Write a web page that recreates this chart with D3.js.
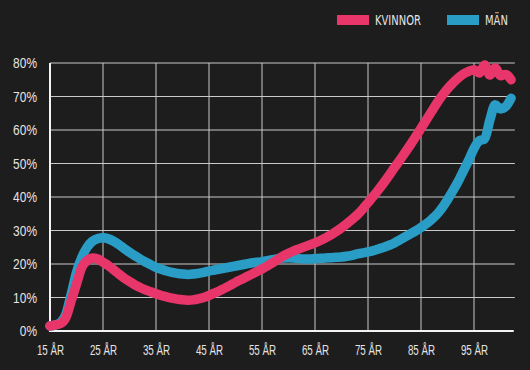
<!DOCTYPE html>
<html>
<head>
    <meta charset='utf-8' />
    <script src="https://d3js.org/d3.v7.min.js" charset="utf-8"></script>
    <style>
        body {
            margin: 0;
            background: #1d1d1d;
            font-family: "DejaVu Sans Condensed", "Liberation Sans Narrow", "Roboto", sans-serif;
        }
        .tick text {
            fill: #e4e4e4;
            font-size: 15.5px;
        }
    </style>
</head>
<body>
    <div id="graphic"></div>
    <script>
        // ages 15..102
        var ages = d3.range(15, 103);

        var kvinnor = [1.5, 1.8, 2.2, 4, 9, 14, 19, 21, 21.8, 21.5,
            20.5, 19.5, 18.3, 17, 15.8, 14.8, 13.8, 13, 12.3, 11.7,
            11.1, 10.6, 10.2, 9.8, 9.5, 9.3, 9.2, 9.3, 9.6, 10,
            10.6, 11.3, 12, 12.8, 13.6, 14.5, 15.3, 16.1, 16.9, 17.7,
            18.5, 19.4, 20.4, 21.4, 22.4, 23.2, 23.9, 24.5, 25.1, 25.7,
            26.3, 27, 27.8, 28.7, 29.7, 30.8, 32, 33.3, 34.7, 36.4,
            38.3, 40.2, 42.2, 44.3, 46.5, 48.8, 51, 53.3, 55.6, 58,
            60.5, 63, 65.5, 68, 70.3, 72.3, 74, 75.5, 76.7, 77.5,
            78, 77, 79.4, 76.4, 78.6, 76.2, 76.6, 75];

        var man = [1.5, 1.8, 2.5, 5, 11, 17.5, 22, 25, 26.8, 27.6,
            27.8, 27.5, 26.8, 25.8, 24.6, 23.5, 22.5, 21.5, 20.6, 19.8,
            19, 18.4, 17.9, 17.5, 17.2, 17, 16.9, 17, 17.2, 17.5,
            17.9, 18.2, 18.5, 18.8, 19.1, 19.4, 19.7, 20, 20.3, 20.5,
            20.7, 21, 21.3, 21.6, 21.8, 21.9, 21.8, 21.6, 21.5, 21.5,
            21.6, 21.7, 21.8, 21.9, 22, 22.1, 22.3, 22.6, 23, 23.3,
            23.6, 24, 24.5, 25, 25.6, 26.3, 27.2, 28.1, 29, 29.9,
            30.9, 32, 33.3, 34.8, 36.8, 39.2, 41.8, 44.6, 47.8, 51,
            54.5, 56.8, 57.3, 63, 67.5, 66.3, 67, 69.5];

        var xTicks = [15, 25, 35, 45, 55, 65, 75, 85, 95];
        var yTicks = [0, 10, 20, 30, 40, 50, 60, 70, 80];
        var seriesNames = ["KVINNOR", "MÄN"];
        var colors = ["#e8356a", "#2a9dc6"];

        var width = 530, height = 370;

        var svg = d3.select("#graphic").append("svg")
            .attr("width", width)
            .attr("height", height)
            .style("background", "#1d1d1d");

        var x = d3.scaleLinear().domain([15, 102.5]).range([50, 513.75]);
        var y = d3.scaleLinear().domain([0, 80]).range([331, 63]);

        // squeeze text to look like a condensed display face
        function squeeze(sel, k) {
            sel.each(function () {
                var w = this.getComputedTextLength();
                d3.select(this).attr("textLength", w * k).attr("lengthAdjust", "spacingAndGlyphs");
            });
        }

        // grid
        svg.append("g").selectAll("line.h")
            .data(yTicks.slice(1))
            .enter().append("line")
            .attr("x1", x(15)).attr("x2", x(102.7))
            .attr("y1", function (d) { return y(d); })
            .attr("y2", function (d) { return y(d); })
            .attr("stroke", "#c9c9c9")
            .attr("stroke-width", 1);

        svg.append("g").selectAll("line.v")
            .data(xTicks.slice(1))
            .enter().append("line")
            .attr("x1", function (d) { return x(d); })
            .attr("x2", function (d) { return x(d); })
            .attr("y1", y(80)).attr("y2", y(0))
            .attr("stroke", "#c9c9c9")
            .attr("stroke-width", 1);

        // axes
        var xAxis = d3.axisBottom(x).tickValues(xTicks).tickSize(0).tickPadding(13)
            .tickFormat(function (d) { return d + " ÅR"; });
        var gx = svg.append("g")
            .attr("transform", "translate(0," + y(0) + ")")
            .call(xAxis);
        gx.select(".domain").remove();
        squeeze(gx.selectAll("text"), 0.63);

        var yAxis = d3.axisLeft(y).tickValues(yTicks).tickSize(0).tickPadding(13)
            .tickFormat(function (d) { return d + "%"; });
        var gy = svg.append("g")
            .attr("transform", "translate(" + x(15) + ",0)")
            .call(yAxis);
        gy.select(".domain").remove();
        squeeze(gy.selectAll("text"), 0.77);

        svg.append("line")
            .attr("x1", x(15)).attr("x2", x(15))
            .attr("y1", y(80)).attr("y2", y(0) + 1)
            .attr("stroke", "#f2f2f2").attr("stroke-width", 2);
        svg.append("line")
            .attr("x1", x(15) - 1).attr("x2", x(102.5))
            .attr("y1", y(0)).attr("y2", y(0))
            .attr("stroke", "#f2f2f2").attr("stroke-width", 2);

        // lines
        var line = d3.line()
            .x(function (d, i) { return x(ages[i]); })
            .y(function (d) { return y(d); })
            .curve(d3.curveMonotoneX);

        [man, kvinnor].forEach(function (s) {
            svg.append("path")
                .datum(s)
                .attr("d", line)
                .attr("fill", "none")
                .attr("stroke", s === man ? colors[1] : colors[0])
                .attr("stroke-width", 9.5)
                .attr("stroke-linecap", "round")
                .attr("stroke-linejoin", "round");
        });

        // legend
        var legend = svg.append("g").selectAll("g")
            .data(seriesNames)
            .enter().append("g")
            .attr("transform", function (d, i) { return "translate(" + (337 + i * 110) + ",15)"; });
        legend.append("rect")
            .attr("width", 32).attr("height", 10)
            .attr("fill", function (d, i) { return colors[i]; });
        var lt = legend.append("text")
            .attr("x", 38).attr("y", 5)
            .attr("dy", "0.36em")
            .attr("fill", "#e4e4e4")
            .style("font-size", "14px")
            .text(function (d) { return d; });
        squeeze(lt, 0.79);
    </script>
</body>
</html>
